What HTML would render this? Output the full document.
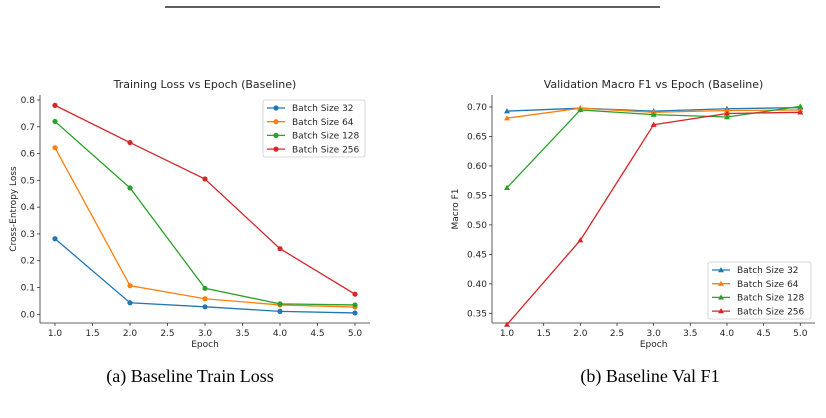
<!DOCTYPE html>
<html><head><meta charset="utf-8"><style>
html,body{margin:0;padding:0;background:#fff;width:826px;height:418px;overflow:hidden}
svg text{font-family:"DejaVu Sans","Liberation Sans",sans-serif;fill:#262626}
.cap{font-family:"Liberation Serif",serif;font-size:18px;fill:#000}
</style></head><body>
<svg id="svg" width="826" height="418">
<line x1="165" y1="7" x2="660" y2="7" stroke="#000" stroke-width="1.2"/>
<text class="cap" x="190" y="382" text-anchor="middle">(a)  Baseline Train Loss</text>
<text class="cap" x="650" y="382" text-anchor="middle">(b)  Baseline Val F1</text>
<g id="c1"></g>
<g id="c2"></g>
</svg>
<script>
const epochs=[1,2,3,4,5];
const seriesNames=["Batch Size 32","Batch Size 64","Batch Size 128","Batch Size 256"];
const loss32=[0.282,0.043,0.028,0.011,0.005];
const loss64=[0.622,0.107,0.058,0.035,0.027];
const loss128=[0.72,0.472,0.097,0.039,0.035];
const loss256=[0.78,0.641,0.505,0.245,0.075];
const f1_32=[0.693,0.698,0.693,0.697,0.699];
const f1_64=[0.681,0.698,0.691,0.694,0.695];
const f1_128=[0.563,0.695,0.687,0.683,0.701];
const f1_256=[0.331,0.474,0.670,0.689,0.691];
const xTicks=[1.0,1.5,2.0,2.5,3.0,3.5,4.0,4.5,5.0];
const lossTicks=[0,0.1,0.2,0.3,0.4,0.5,0.6,0.7,0.8];
const f1Ticks=[0.35,0.40,0.45,0.50,0.55,0.60,0.65,0.70];
const colors=["#1f77b4","#ff7f0e","#2ca02c","#d62728"];
const NS="http://www.w3.org/2000/svg";
function mk(p,t,a){const e=document.createElementNS(NS,t);for(const k in a)e.setAttribute(k,a[k]);p.appendChild(e);return e;}
function chart(g,o){
 const X=v=>o.x0+(v-1)/4*(o.x1-o.x0);
 const Y=v=>o.yb+(v-o.vb)/(o.vt-o.vb)*(o.yt-o.yb);
 let e=mk(g,'line',{x1:o.L,y1:o.T,x2:o.L,y2:o.B,stroke:'#333','stroke-width':0.8});
 
 
 e=mk(g,'line',{x1:o.L,y1:o.B,x2:o.R,y2:o.B,stroke:'#333','stroke-width':0.8});
 
 
 xTicks.forEach(v=>{mk(g,'line',{x1:X(v),y1:o.B,x2:X(v),y2:o.B+3,stroke:'#333','stroke-width':0.8});
  e=mk(g,'text',{x:X(v),y:o.B+13,'font-size':9,'text-anchor':'middle'});e.textContent=v.toFixed(1);
  
  });
 o.yt_.forEach(v=>{mk(g,'line',{x1:o.L-3,y1:Y(v),x2:o.L,y2:Y(v),stroke:'#333','stroke-width':0.8});
  e=mk(g,'text',{x:o.L-5,y:Y(v)+3,'font-size':9,'text-anchor':'end'});e.textContent=v.toFixed(o.dec);
  
  });
 e=mk(g,'text',{x:(o.L+o.R)/2,y:18+70,'font-size':11,'text-anchor':'middle'});e.textContent=o.title;
 
 
 e=mk(g,'text',{x:(o.x0+o.x1)/2,y:o.B+24,'font-size':9,'text-anchor':'middle'});e.textContent='Epoch';
 
 
 e=mk(g,'text',{x:0,y:0,'font-size':9,'text-anchor':'middle',transform:`translate(${o.yl},${(o.T+o.B)/2}) rotate(-90)`});e.textContent=o.ylab;
 
 
 o.data.forEach((d,i)=>{
  e=mk(g,'polyline',{points:d.map((v,j)=>X(epochs[j])+','+Y(v)).join(' '),fill:'none',stroke:colors[i],'stroke-width':1.3});
  
  
  d.forEach((v,j)=>{const cx=X(epochs[j]),cy=Y(v);
   if(o.tri) e=mk(g,'polygon',{points:`${cx},${cy-3} ${cx-3},${cy+2.2} ${cx+3},${cy+2.2}`,fill:colors[i]});
   else e=mk(g,'circle',{cx,cy,r:2.6,fill:colors[i]});
   
   });
 });
 const lg=o.lg;
 e=mk(g,'rect',{x:lg[0],y:lg[1],width:lg[2],height:lg[3],fill:'#fff',stroke:'#ccc','stroke-width':0.8,rx:2});
 
 
 seriesNames.forEach((n,i)=>{const y=lg[1]+8+i*13.7;
  mk(g,'line',{x1:lg[0]+4,y1:y,x2:lg[0]+22,y2:y,stroke:colors[i],'stroke-width':1.3});
  if(o.tri) mk(g,'polygon',{points:`${lg[0]+13},${y-3} ${lg[0]+10},${y+2.2} ${lg[0]+16},${y+2.2}`,fill:colors[i]});
  else mk(g,'circle',{cx:lg[0]+13,cy:y,r:2.6,fill:colors[i]});
  e=mk(g,'text',{x:lg[0]+29,y:y+3.2,'font-size':9});e.textContent=n;
  
  });
}
chart(document.getElementById('c1'),{x0:55,x1:355,L:40,R:370,T:95,B:323,yb:314.3,vb:0,yt:100,vt:0.8,yt_:lossTicks,dec:1,
 title:'Training Loss vs Epoch (Baseline)',ylab:'Cross-Entropy Loss',yl:16,data:[loss32,loss64,loss128,loss256],tri:false,lg:[263,100,102,57]});
chart(document.getElementById('c2'),{x0:507,x1:800.3,L:492,R:815,T:95,B:323,yb:313.3,vb:0.35,yt:107,vt:0.70,yt_:f1Ticks,dec:2,
 title:'Validation Macro F1 vs Epoch (Baseline)',ylab:'Macro F1',yl:458,data:[f1_32,f1_64,f1_128,f1_256],tri:true,lg:[708,262,103,57]});
</script>
</body></html>
